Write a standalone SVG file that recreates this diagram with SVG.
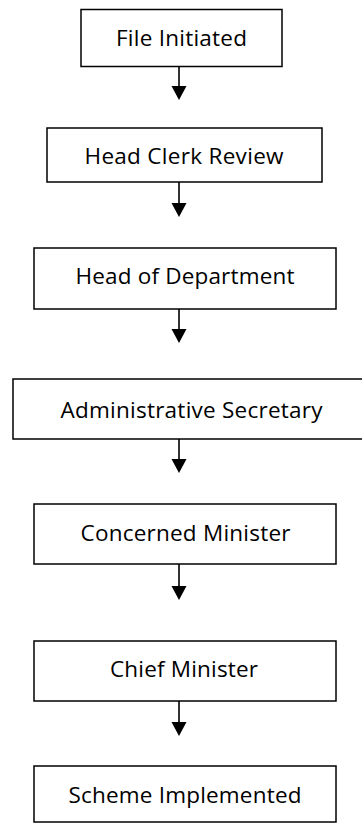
<svg xmlns="http://www.w3.org/2000/svg" width="362" height="824" viewBox="0 0 362 824">
<style>
.box{fill:#ffffff;stroke:#000000;stroke-width:1.5}
.lbl{font-family:"Open Sans","Liberation Sans",sans-serif;font-size:22.5px;fill:#000000;text-anchor:middle}
.con{stroke:#000000;stroke-width:1.6;fill:none}
.head{fill:#000000;stroke:none}
</style>
<rect width="362" height="824" fill="#ffffff"/>
<g id="connectors">
<line class="con" x1="179" y1="66.5" x2="179" y2="88"/>
<polygon class="head" points="171.5,86 186.5,86 179,100"/>
<line class="con" x1="179" y1="182" x2="179" y2="205"/>
<polygon class="head" points="171.5,203 186.5,203 179,217"/>
<line class="con" x1="179" y1="309" x2="179" y2="331"/>
<polygon class="head" points="171.5,329 186.5,329 179,343"/>
<line class="con" x1="179" y1="439" x2="179" y2="461"/>
<polygon class="head" points="171.5,459 186.5,459 179,473"/>
<line class="con" x1="179" y1="564" x2="179" y2="588"/>
<polygon class="head" points="171.5,586 186.5,586 179,600"/>
<line class="con" x1="179" y1="701" x2="179" y2="724"/>
<polygon class="head" points="171.5,722 186.5,722 179,736"/>
</g>
<g id="node-file-initiated">
<rect class="box" x="81" y="9.5" width="201" height="57"/>
<text class="lbl" x="181.5" y="45.5" textLength="131" lengthAdjust="spacing">File Initiated</text>
</g>
<g id="node-head-clerk-review">
<rect class="box" x="47" y="128" width="275" height="54"/>
<text class="lbl" x="184" y="164" textLength="199" lengthAdjust="spacing">Head Clerk Review</text>
</g>
<g id="node-head-of-department">
<rect class="box" x="34" y="248" width="302" height="61"/>
<text class="lbl" x="185" y="284" textLength="219" lengthAdjust="spacing">Head of Department</text>
</g>
<g id="node-administrative-secretary">
<rect class="box" x="13" y="379" width="357" height="60"/>
<text class="lbl" x="191.5" y="418" textLength="262" lengthAdjust="spacing">Administrative Secretary</text>
</g>
<g id="node-concerned-minister">
<rect class="box" x="34" y="504" width="302" height="60"/>
<text class="lbl" x="185.5" y="541" textLength="210" lengthAdjust="spacing">Concerned Minister</text>
</g>
<g id="node-chief-minister">
<rect class="box" x="34" y="641" width="302" height="60"/>
<text class="lbl" x="184" y="677" textLength="148" lengthAdjust="spacing">Chief Minister</text>
</g>
<g id="node-scheme-implemented">
<rect class="box" x="34" y="766" width="302" height="56"/>
<text class="lbl" x="185" y="803" textLength="233" lengthAdjust="spacing">Scheme Implemented</text>
</g>
</svg>
